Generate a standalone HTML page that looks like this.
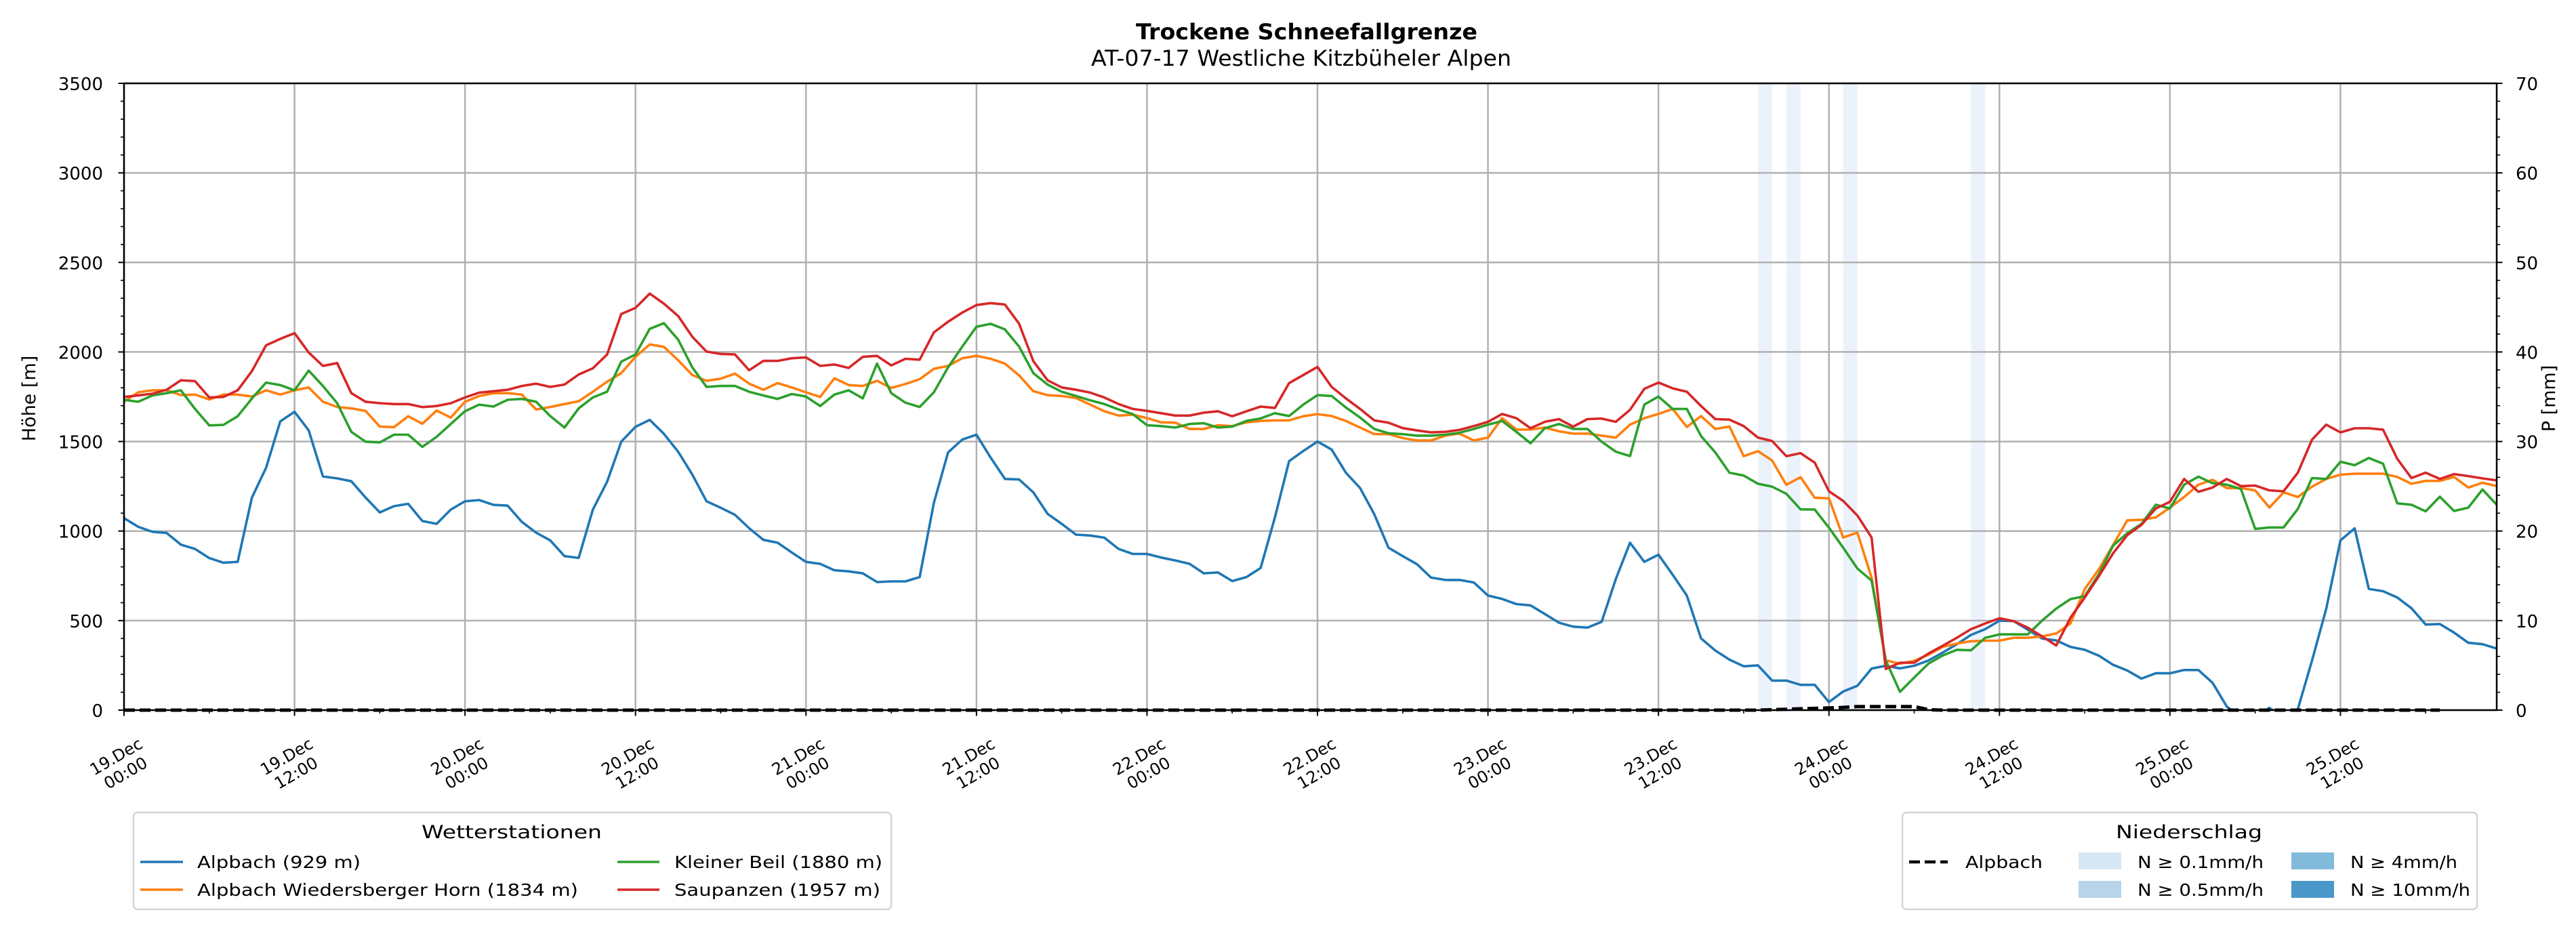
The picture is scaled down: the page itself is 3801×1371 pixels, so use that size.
<!DOCTYPE html>
<html><head><meta charset="utf-8"><style>
html,body{margin:0;padding:0;background:#fff;}
svg{display:block;font-family:"DejaVu Sans","Liberation Sans",sans-serif;}
</style></head><body>
<svg id="chart" xmlns="http://www.w3.org/2000/svg" width="3801" height="1371" viewBox="0 0 3801 1371">
<rect x="0" y="0" width="3801" height="1371" fill="#fff"/>
<text x="1928" y="58" text-anchor="middle" font-size="32" font-weight="bold" textLength="504" lengthAdjust="spacingAndGlyphs">Trockene Schneefallgrenze</text>
<text x="1920" y="97" text-anchor="middle" font-size="32" textLength="620" lengthAdjust="spacingAndGlyphs">AT-07-17 Westliche Kitzbüheler Alpen</text>
<g id="plot"></g>
<text transform="translate(52,588) rotate(-90)" text-anchor="middle" font-size="27">Höhe [m]</text>
<text transform="translate(3770,588) rotate(-90)" text-anchor="middle" font-size="27">P [mm]</text>

<g>
<rect x="197" y="1199" width="1118" height="143" rx="6" fill="#fff" stroke="#d4d4d4" stroke-width="2.5"/>
<text x="755" y="1237" text-anchor="middle" font-size="27" textLength="266" lengthAdjust="spacingAndGlyphs">Wetterstationen</text>
<g><line x1="207" y1="1272" x2="270" y2="1272" stroke="#1f77b4" stroke-width="3.6"/><text x="291" y="1281" font-size="25" textLength="241" lengthAdjust="spacingAndGlyphs">Alpbach (929 m)</text></g>
<g><line x1="207" y1="1313" x2="270" y2="1313" stroke="#ff7f0e" stroke-width="3.6"/><text x="291" y="1322" font-size="25" textLength="562" lengthAdjust="spacingAndGlyphs">Alpbach Wiedersberger Horn (1834 m)</text></g>
<g><line x1="911" y1="1272" x2="973" y2="1272" stroke="#2ca02c" stroke-width="3.6"/><text x="995" y="1281" font-size="25" textLength="307" lengthAdjust="spacingAndGlyphs">Kleiner Beil (1880 m)</text></g>
<g><line x1="911" y1="1313" x2="973" y2="1313" stroke="#d62728" stroke-width="3.6"/><text x="995" y="1322" font-size="25" textLength="304" lengthAdjust="spacingAndGlyphs">Saupanzen (1957 m)</text></g>
</g>

<g>
<rect x="2807" y="1199" width="848" height="143" rx="6" fill="#fff" stroke="#d4d4d4" stroke-width="2.5"/>
<text x="3230" y="1237" text-anchor="middle" font-size="27" textLength="216" lengthAdjust="spacingAndGlyphs">Niederschlag</text>
<g><line x1="2817" y1="1272" x2="2874" y2="1272" stroke="#000" stroke-width="4.5" stroke-dasharray="16,7"/><text x="2900" y="1281" font-size="25" textLength="114" lengthAdjust="spacingAndGlyphs">Alpbach</text></g>
<g><rect x="3067" y="1258" width="63" height="25" fill="#d6e6f4"/><text x="3154" y="1281" font-size="25" textLength="186" lengthAdjust="spacingAndGlyphs">N ≥ 0.1mm/h</text></g>
<g><rect x="3067" y="1300" width="63" height="25" fill="#b7d4ea"/><text x="3154" y="1322" font-size="25" textLength="186" lengthAdjust="spacingAndGlyphs">N ≥ 0.5mm/h</text></g>
<g><rect x="3381" y="1258" width="63" height="25" fill="#82badb"/><text x="3468" y="1281" font-size="25" textLength="158" lengthAdjust="spacingAndGlyphs">N ≥ 4mm/h</text></g>
<g><rect x="3381" y="1300" width="63" height="25" fill="#4a98c9"/><text x="3468" y="1322" font-size="25" textLength="177" lengthAdjust="spacingAndGlyphs">N ≥ 10mm/h</text></g>
</g>
</svg>
<script>
const alpbach = [1072,1024,996,989,924,900,849,823,828,1187,1353,1613,1666,1562,1305,1294,1278,1187,1104,1139,1152,1056,1040,1120,1166,1173,1146,1142,1051,991,948,860,850,1120,1275,1499,1582,1621,1543,1443,1315,1166,1130,1091,1016,951,935,880,828,817,781,775,764,715,719,719,743,1158,1439,1511,1538,1410,1291,1288,1216,1096,1040,980,975,963,900,872,872,852,836,817,764,769,721,743,794,1075,1390,1447,1500,1455,1326,1240,1094,907,860,815,740,727,727,713,640,621,592,585,537,488,466,461,493,732,935,828,868,756,640,400,333,282,245,250,165,165,141,141,45,104,136,232,248,233,248,277,321,368,420,452,500,497,449,400,389,353,337,304,253,221,176,206,206,224,224,153,20,-40,-40,13,-40,5,277,565,948,1015,677,664,629,569,478,481,433,376,368,344];
const horn = [1722,1775,1786,1786,1759,1762,1735,1762,1762,1751,1786,1762,1786,1802,1722,1693,1685,1671,1583,1580,1641,1599,1673,1634,1722,1754,1770,1770,1762,1679,1693,1709,1725,1778,1834,1882,1973,2042,2029,1954,1871,1839,1851,1879,1823,1789,1826,1802,1775,1749,1853,1815,1810,1839,1799,1821,1848,1906,1922,1965,1978,1962,1935,1869,1781,1759,1754,1743,1706,1669,1645,1650,1631,1607,1605,1570,1570,1591,1586,1607,1615,1618,1618,1641,1653,1642,1615,1578,1541,1541,1519,1506,1506,1533,1544,1506,1522,1630,1567,1567,1578,1557,1544,1544,1533,1522,1594,1630,1654,1682,1581,1642,1570,1584,1418,1446,1394,1258,1301,1186,1183,964,991,740,278,259,275,309,353,372,385,388,388,404,404,412,428,484,675,787,923,1060,1063,1076,1131,1190,1259,1286,1240,1240,1227,1131,1216,1190,1248,1291,1315,1320,1320,1320,1302,1264,1280,1280,1302,1243,1270,1251];
const beil = [1733,1722,1757,1770,1786,1682,1590,1593,1641,1740,1829,1815,1786,1896,1810,1714,1554,1499,1495,1538,1538,1470,1526,1598,1669,1706,1695,1733,1738,1722,1642,1578,1685,1746,1778,1946,1986,2129,2161,2069,1914,1805,1810,1810,1778,1757,1738,1765,1751,1698,1762,1786,1741,1935,1770,1717,1693,1775,1914,2030,2141,2157,2126,2030,1882,1818,1778,1754,1730,1709,1679,1653,1591,1586,1578,1598,1602,1578,1583,1615,1629,1658,1642,1706,1759,1754,1690,1634,1570,1546,1541,1533,1533,1538,1549,1570,1594,1615,1554,1490,1574,1598,1570,1570,1499,1443,1419,1706,1751,1682,1682,1530,1439,1326,1310,1264,1248,1208,1121,1120,1019,907,791,724,278,102,182,259,305,337,334,404,423,423,423,500,567,620,636,759,919,988,1040,1147,1126,1259,1304,1267,1259,1235,1012,1020,1020,1123,1296,1291,1387,1368,1408,1376,1155,1147,1110,1192,1112,1131,1232,1147];
const saupanzen = [1749,1757,1767,1789,1842,1837,1746,1749,1786,1893,2037,2073,2105,1997,1922,1938,1770,1722,1714,1709,1709,1692,1698,1714,1746,1773,1781,1789,1810,1823,1805,1818,1874,1909,1986,2212,2246,2326,2270,2201,2085,2002,1989,1986,1898,1950,1950,1965,1970,1922,1930,1911,1973,1978,1925,1962,1957,2109,2169,2220,2262,2273,2265,2158,1949,1842,1802,1789,1773,1746,1709,1682,1671,1658,1645,1645,1661,1669,1641,1669,1695,1687,1826,1871,1917,1805,1741,1682,1618,1605,1575,1562,1551,1554,1565,1586,1610,1654,1630,1574,1610,1625,1583,1625,1628,1610,1677,1794,1829,1797,1778,1698,1625,1622,1586,1522,1503,1418,1435,1382,1222,1168,1087,964,230,265,265,316,359,404,452,484,513,497,460,412,361,516,628,748,876,977,1035,1126,1163,1291,1219,1243,1291,1251,1254,1227,1222,1326,1510,1594,1551,1574,1574,1566,1403,1296,1326,1291,1318,1307,1294,1283];
const precipMm = [0,0,0,0,0,0,0,0,0,0,0,0,0,0,0,0,0,0,0,0,0,0,0,0,0,0,0,0,0,0,0,0,0,0,0,0,0,0,0,0,0,0,0,0,0,0,0,0,0,0,0,0,0,0,0,0,0,0,0,0,0,0,0,0,0,0,0,0,0,0,0,0,0,0,0,0,0,0,0,0,0,0,0,0,0,0,0,0,0,0,0,0,0,0,0,0,0,0,0,0,0,0,0,0,0,0,0,0,0,0,0,0,0,0,0,0,0.05,0.1,0.15,0.2,0.25,0.3,0.4,0.4,0.4,0.4,0.4,0.05,0,0,0,0,0,0,0,0,0,0,0,0,0,0,0,0,0,0,0,0,0,0,0,0,0,0,0,0,0,0,0,0,0,0,0,0];
const precipBandHours = [115,117,121,130];
const yTicks = [0,500,1000,1500,2000,2500,3000,3500];
const y2Ticks = [0,10,20,30,40,50,60,70];
const xTickDays = ["19.Dec","19.Dec","20.Dec","20.Dec","21.Dec","21.Dec","22.Dec","22.Dec","23.Dec","23.Dec","24.Dec","24.Dec","25.Dec","25.Dec"];
const xTickTimes = ["00:00","12:00","00:00","12:00","00:00","12:00","00:00","12:00","00:00","12:00","00:00","12:00","00:00","12:00"];

const L=183, R=3684, T=123, B=1048, HMAX=167;
const xs = h => L + (R-L)*h/HMAX;
const ys = v => B - (B-T)*v/3500;
const ys2 = p => B - (B-T)*p/70;
const NS="http://www.w3.org/2000/svg";
const plot=document.getElementById('plot');
function mk(tag, attrs, parent){const e=document.createElementNS(NS,tag);for(const k in attrs)e.setAttribute(k,attrs[k]);(parent||plot).appendChild(e);return e;}

const defs=mk('defs',{});
const cp=mk('clipPath',{id:'clip'},defs);
mk('rect',{x:L,y:T,width:R-L,height:B-T},cp);

precipBandHours.forEach(h=>{
  const r=mk('rect',{x:xs(h),y:T,width:xs(h+1)-xs(h),height:B-T,fill:'#ecf2fb'});
  
  
});
yTicks.forEach(v=>{
  const g=mk('line',{x1:L,x2:R,y1:ys(v),y2:ys(v),stroke:'#b0b0b0','stroke-width':2.5});
  
  
});
xTickDays.forEach((d,i)=>{
  const x=xs(i*12);
  const g=mk('line',{x1:x,x2:x,y1:T,y2:B,stroke:'#b0b0b0','stroke-width':2.5});
  
  
});
function series(arr,color,name){
  const pts=arr.map((v,h)=>xs(h).toFixed(1)+','+ys(v).toFixed(1)).join(' ');
  const p=mk('polyline',{points:pts,fill:'none',stroke:color,'stroke-width':3.6,'stroke-linejoin':'round','clip-path':'url(#clip)'});
  
  
}
series(alpbach,'#1f77b4','line-alpbach');
series(horn,'#ff7f0e','line-wiedersberger-horn');
series(beil,'#2ca02c','line-kleiner-beil');
series(saupanzen,'#d62728','line-saupanzen');
const pp=precipMm.map((v,h)=>xs(h).toFixed(1)+','+ys2(v).toFixed(1)).join(' ');
const pl=mk('polyline',{points:pp,fill:'none',stroke:'#000','stroke-width':5,'stroke-dasharray':'16,7'});



const fr=mk('rect',{x:L,y:T,width:R-L,height:B-T,fill:'none',stroke:'#000','stroke-width':2.5});


for(let v=0;v<=3500;v+=100){
  const major=v%500===0;
  mk('line',{x1:L,x2:L-(major?8.5:5),y1:ys(v),y2:ys(v),stroke:'#000','stroke-width':major?2:1.6});
}
for(let p=0;p<=70;p+=2){
  const major=p%10===0;
  mk('line',{x1:R,x2:R+(major?8.5:5),y1:ys2(p),y2:ys2(p),stroke:'#000','stroke-width':major?2:1.6});
}
yTicks.forEach(v=>{
  const t=mk('text',{x:L-31,y:ys(v)+10,'text-anchor':'end','font-size':26});
  t.textContent=v;
  
  
});
y2Ticks.forEach(p=>{
  const t=mk('text',{x:R+28,y:ys2(p)+10,'text-anchor':'start','font-size':26});
  t.textContent=p;
  
  
});
for(let h=0;h<=HMAX;h+=6){
  const major=h%12===0;
  mk('line',{x1:xs(h),x2:xs(h),y1:B,y2:B+(major?8.5:5),stroke:'#000','stroke-width':major?2:1.6});
}
xTickDays.forEach((d,i)=>{
  const cx=xs(i*12)-5, cy=1128;
  const t=mk('text',{transform:`translate(${cx},${cy}) rotate(-30)`,'text-anchor':'middle','font-size':24});
  
  
  const a=mk('tspan',{x:0,y:-5},t); a.textContent=d;
  const b=mk('tspan',{x:0,y:23},t); b.textContent=xTickTimes[i];
});
</script>
</body></html>
